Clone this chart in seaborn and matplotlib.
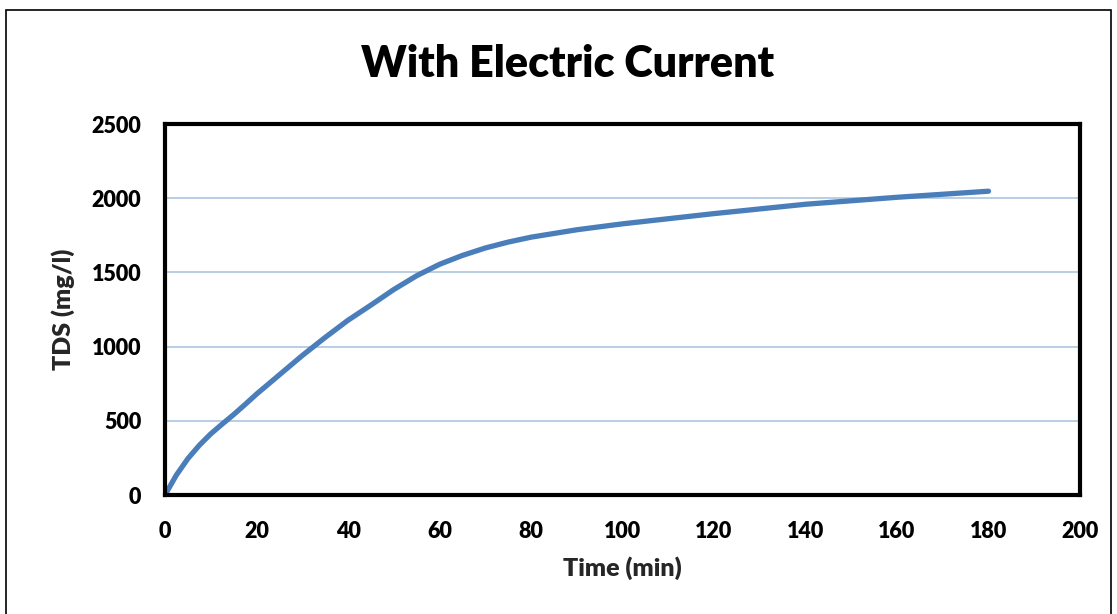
import pandas as pd
import matplotlib.pyplot as plt
import seaborn as sns
from matplotlib.patches import Rectangle

time_min = [0, 2.5, 5, 7.5, 10, 12.5, 15, 17.5, 20, 25, 30, 35, 40, 45, 50, 55, 60, 65, 70, 75, 80, 90, 100, 120, 140, 160, 180]
tds = [0, 135, 245, 335, 412, 478, 542, 610, 680, 810, 940, 1062, 1178, 1280, 1385, 1478, 1555, 1615, 1665, 1705, 1738, 1788, 1828, 1897, 1960, 2007, 2048]

data = pd.DataFrame({'Time (min)': time_min, 'TDS (mg/l)': tds})

sns.set_style('white')
plt.rcParams['font.family'] = ['Lato', 'DejaVu Sans']

fig = plt.figure(figsize=(11.17, 6.14), dpi=100)
ax = fig.add_axes([0.1477, 0.1938, 0.8192, 0.604])

sns.lineplot(x='Time (min)', y='TDS (mg/l)', data=data, ax=ax,
             color='#4A7EBB', linewidth=3.8, solid_capstyle='round')

ax.set_xlim(0, 200)
ax.set_ylim(0, 2500)
ax.set_xticks(range(0, 201, 20))
ax.set_yticks(range(0, 2501, 500))
ax.yaxis.grid(True, color='#B9CDE5', linewidth=1.4)
ax.set_axisbelow(True)

for side in ['left', 'right', 'top', 'bottom']:
    ax.spines[side].set_color('black')
    ax.spines[side].set_linewidth(3)

ax.tick_params(axis='both', which='major', direction='out', length=5, width=1.2,
               color='#808080', labelsize=15.5, labelcolor='black')
ax.tick_params(axis='x', pad=14)
ax.tick_params(axis='y', pad=12)
for lbl in ax.get_xticklabels() + ax.get_yticklabels():
    lbl.set_fontweight('heavy')

ax.set_xlabel('Time (min)', fontsize=18, fontweight='heavy', labelpad=10)
ax.set_ylabel('TDS (mg/l)', fontsize=18, fontweight='heavy', labelpad=12)

fig.text(0.508, 0.896, 'With Electric Current', ha='center', va='center',
         fontsize=31, fontweight='heavy', color='black')

fig.patches.append(Rectangle((0.005, -0.01), 0.99, 0.993, transform=fig.transFigure,
                             fill=False, edgecolor='black', linewidth=1.2))

plt.savefig('out.png', dpi=100)
